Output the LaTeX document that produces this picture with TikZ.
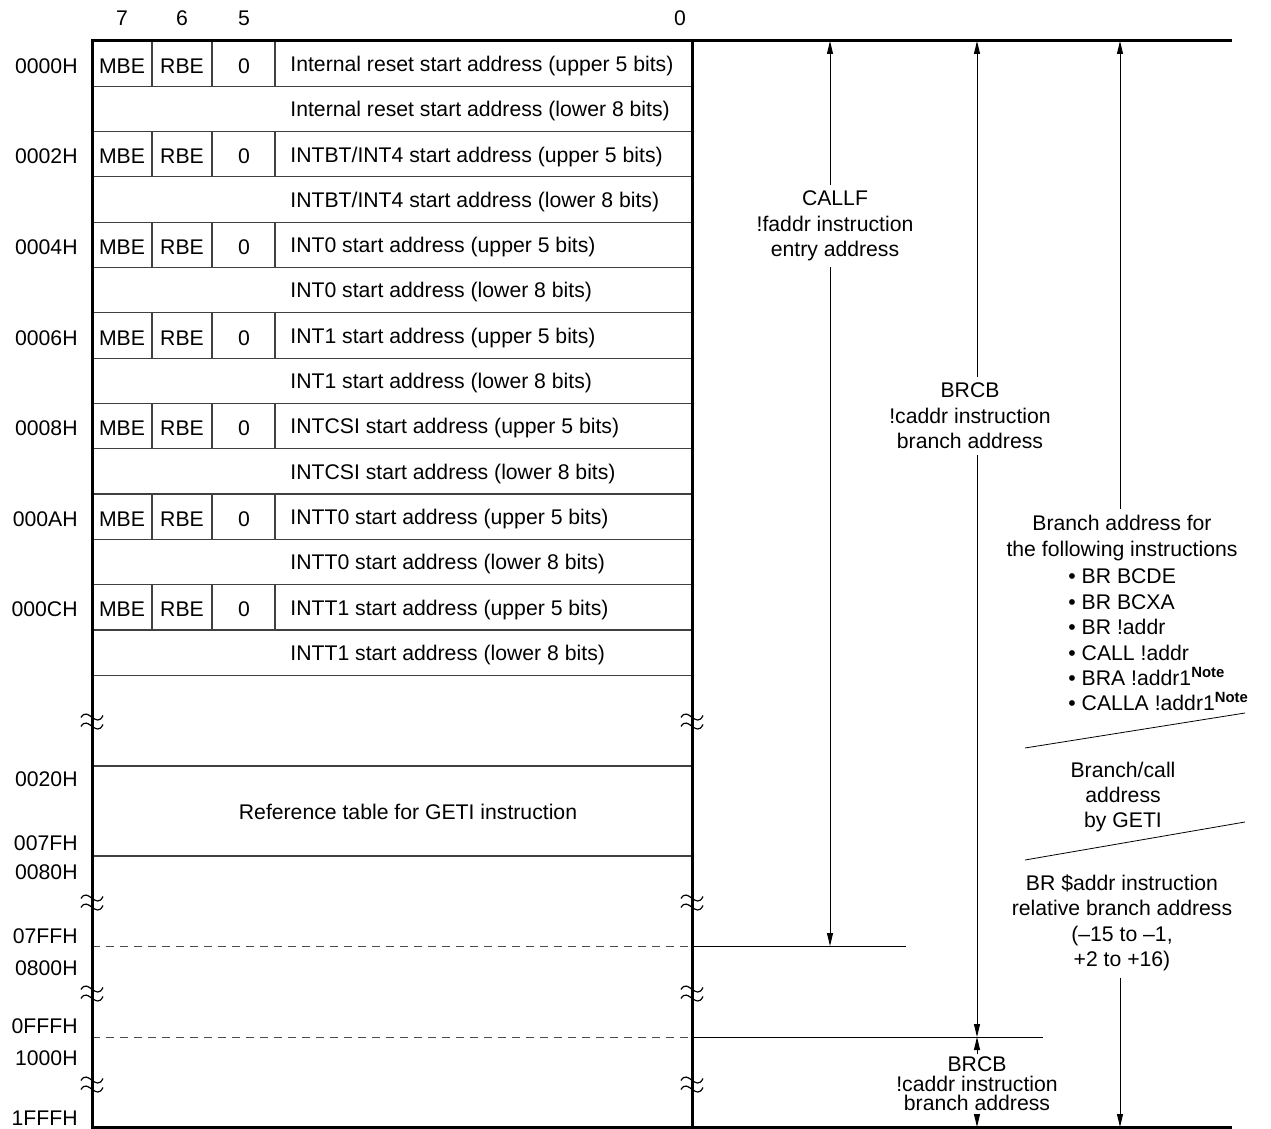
\documentclass[tikz,border=0pt]{standalone}
\usepackage{fontspec}
\setmainfont{Liberation Sans}
\usetikzlibrary{arrows.meta}

\begin{document}
\begin{tikzpicture}[
  x=0.5pt, y=-0.5pt,
  font=\fontsize{10.6}{12.7}\selectfont,
  every node/.style={inner sep=1pt},
  addr/.style={anchor=east},
  entry/.style={anchor=west},
  lbl/.style={align=center, inner sep=3pt},
  tight/.style={align=center, inner sep=1pt, font=\fontsize{10.6}{9.8}\selectfont},
  grid/.style={line width=0.6pt, draw=black!75},
  frame/.style={line width=1.5pt},
  brkline/.style={dashed, dash pattern=on 4pt off 3pt, line width=0.5pt, draw=black!70},
  span/.style={line width=0.5pt, -{Triangle[length=6.5pt,width=3pt]}},
  brk/.pic={
    \draw[line width=0.6pt] (-11,-3.5) .. controls (-4,-15.5) and (4,8.5) .. (11,-5.5);
    \draw[line width=0.6pt] (-11,5.5) .. controls (-4,-6.5) and (4,17.5) .. (11,3.5);
  }
]
\useasboundingbox (0,0) rectangle (1271,1129);

% bit numbers
\node (b7) at (122,18) {7};
\node (b6) at (182,18) {6};
\node (b5) at (244,18) {5};
\node (b0) at (680,18) {0};

% vector table rows
\foreach \k/\adr/\nm in {0/0000H/Internal reset, 1/0002H/{INTBT/INT4}, 2/0004H/INT0, 3/0006H/INT1, 4/0008H/INTCSI, 5/000AH/INTT0, 6/000CH/INTT1} {
  \pgfmathsetmacro\yt{41+90.6*\k}
  \node[addr] (a\k) at (80,\yt+25) {\adr};
  \node (mbe\k) at (122,\yt+25) {MBE};
  \node (rbe\k) at (182,\yt+25) {RBE};
  \node (zr\k) at (244,\yt+25) {0};
  \node[entry] (up\k) at (288,\yt+25) {\nm\ start address (upper 5 bits)};
  \node[entry] (lo\k) at (288,\yt+70.3) {\nm\ start address (lower 8 bits)};
  \draw[grid] (92,\yt+45.3) -- (692,\yt+45.3);
  \draw[grid] (92,\yt+90.6) -- (692,\yt+90.6);
  \foreach \c in {152,212,275} \draw[grid] (\c,\yt) -- (\c,\yt+45.3);
}

% GETI reference table
\draw[grid] (92,766) -- (692,766);
\draw[grid] (92,856) -- (692,856);
\node (tbl) at (408,812) {Reference table for GETI instruction};

\node[addr] (a20) at (80,779) {0020H};
\node[addr] (a7f) at (80,843) {007FH};
\node[addr] (a80) at (80,872) {0080H};
\node[addr] (a7ff) at (80,936) {07FFH};
\node[addr] (a800) at (80,968) {0800H};
\node[addr] (afff) at (80,1026) {0FFFH};
\node[addr] (a1000) at (80,1058) {1000H};
\node[addr] (a1fff) at (80,1118) {1FFFH};

% page boundaries
\draw[brkline] (92,946) -- (692,946);
\draw[brkline] (92,1037) -- (692,1037);
\draw[line width=0.5pt] (692,946) -- (906,946);
\draw[line width=0.5pt] (692,1037) -- (1043,1037);

% frame
\draw[frame] (1232,41) -- (92,41) -- (92,1127) -- (1232,1127);
\draw[frame] (692,41) -- (692,1127);

\foreach \y in {721,902,993,1084} {
  \pic at (92,\y) {brk};
  \pic at (692,\y) {brk};
}

% address ranges
\coordinate (t1) at (830,41);
\coordinate (e1) at (830,946);
\coordinate (t2) at (977,41);
\coordinate (e2) at (977,1037);
\coordinate (t3) at (1120,41);
\coordinate (e3) at (1120,1127);
\coordinate (e4) at (977,1127);

\node[lbl] (callf) at (835,226) {CALLF\\!faddr instruction\\entry address};
\node[lbl] (brcb) at (970,416) {BRCB\\!caddr instruction\\branch address};
\node[tight] (brcbb) at (977,1084) {BRCB\\!caddr instruction\\branch address};

\node[lbl] (brfor) at (1122,538) {Branch address for\\the following instructions};
\node[anchor=west, align=left] (bul) at (1066,640) {\textbullet\ BR BCDE\\\textbullet\ BR BCXA\\\textbullet\ BR !addr\\\textbullet\ CALL !addr\\\textbullet\ BRA !addr1\textsuperscript{\bfseries Note}\\\textbullet\ CALLA !addr1\textsuperscript{\bfseries Note}};
\node[lbl] (geti) at (1123,797) {Branch/call\\address\\by GETI};
\node[lbl] (rel) at (1122,923) {BR \$addr instruction\\relative branch address\\(–15 to –1,\\+2 to +16)};

\draw (1025,748) -- (1245,713);
\draw (1025,860) -- (1245,822);

\foreach \a/\b in {callf/t1,brcb/t2,brfor/t3} \draw[span] (\a.north -| \b) -- (\b);
\foreach \a/\b in {callf/e1,brcb/e2,rel/e3} \draw[span] (\a.south -| \b) -- (\b);
\draw[span] (brcbb.north) -- (e2);
\draw[span] (brcbb.south) -- (e4);
\end{tikzpicture}
\end{document}
